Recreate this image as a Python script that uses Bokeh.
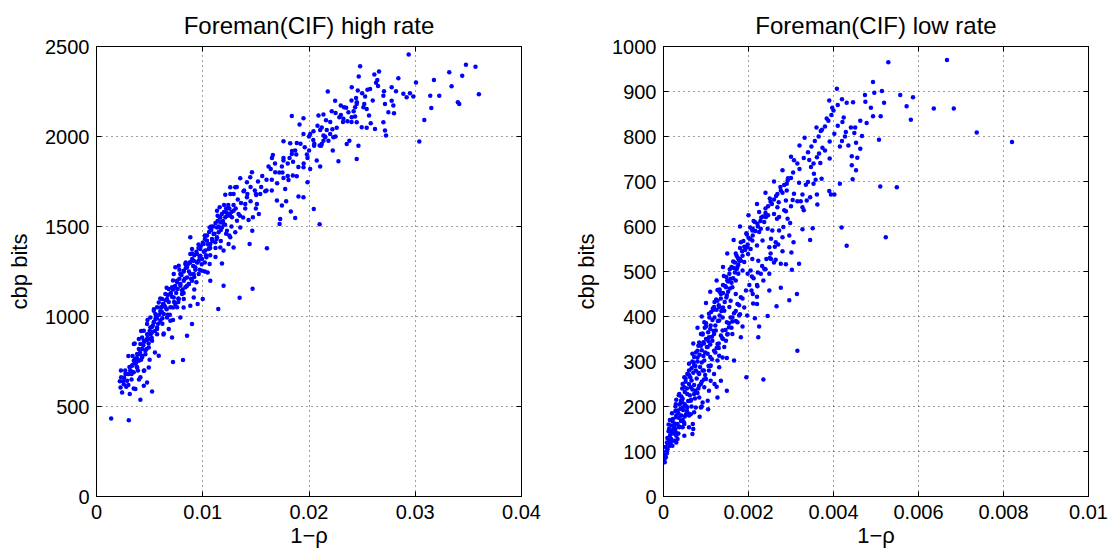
from bokeh.plotting import figure
from bokeh.layouts import row
from bokeh.models import FixedTicker, LinearAxis, CustomJSTickFormatter, Range1d
from bokeh.embed import file_html
from bokeh.resources import INLINE

# ---------------- data: Foreman(CIF) high rate ----------------
hr_x = [
    0.00138, 0.00304, 0.00413, 0.00523, 0.00720, 0.00814, 0.01146, 0.01347, 0.01469, 0.01604,
    0.01196, 0.02100, 0.02045, 0.03038, 0.03085, 0.02938, 0.03477, 0.03567, 0.03599, 0.03320,
    0.03442, 0.03342, 0.03401, 0.03414, 0.03176, 0.03141, 0.03226, 0.03151, 0.03007, 0.02888,
    0.02919, 0.02950, 0.02982, 0.02841, 0.02778, 0.02819, 0.02706, 0.02700, 0.02778, 0.02794,
    0.02715, 0.02747, 0.02800, 0.02700, 0.02715, 0.02725, 0.02621, 0.02543, 0.02496, 0.02581,
    0.02659, 0.02615, 0.02643, 0.02631, 0.02575, 0.02528, 0.02481, 0.02468, 0.02459, 0.02443,
    0.02449, 0.02402, 0.02434, 0.02512, 0.02543, 0.02565, 0.02434, 0.02449, 0.02402, 0.02362,
    0.02324, 0.02371, 0.02299, 0.02330, 0.02286, 0.02246, 0.02177, 0.02214, 0.02261, 0.02230,
    0.02199, 0.02152, 0.02136, 0.02120, 0.02183, 0.02167, 0.02105, 0.02089, 0.02136, 0.02042,
    0.02011, 0.01948, 0.01911, 0.01948, 0.01838, 0.01760, 0.01823, 0.01885, 0.01870, 0.01838,
    0.01817, 0.01760, 0.01660, 0.01651, 0.01745, 0.01682, 0.01619, 0.01760, 0.01848, 0.01885,
    0.01948, 0.01986, 0.02001, 0.02048, 0.02073, 0.02011, 0.02105, 0.02114, 0.02136, 0.02224,
    0.02277, 0.02355, 0.02380, 0.02465, 0.02449, 0.01986, 0.01948, 0.01901, 0.01785, 0.01829,
    0.01870, 0.01723, 0.01729, 0.01745, 0.01698, 0.01776, 0.01807, 0.01588, 0.01541, 0.01503,
    0.01510, 0.01528, 0.01472, 0.01431, 0.01416, 0.01400, 0.01463, 0.01447, 0.01416, 0.01384,
    0.01353, 0.01306, 0.01290, 0.01259, 0.01212, 0.01159, 0.01221, 0.01259, 0.01322, 0.01353,
    0.01306, 0.01259, 0.01228, 0.01196, 0.01165, 0.01134, 0.01102, 0.01065, 0.01040, 0.01008,
    0.00977, 0.01071, 0.01118, 0.01165, 0.01196, 0.01243, 0.01290, 0.01441, 0.01466, 0.01181,
    0.01065, 0.01046, 0.01071, 0.01034, 0.00977, 0.00946, 0.00915, 0.00883, 0.00852, 0.00821,
    0.00789, 0.00883, 0.00899, 0.00836, 0.00774, 0.00742, 0.00727, 0.00758, 0.00789, 0.00805,
    0.00836, 0.00868, 0.00899, 0.00940, 0.00962, 0.00993, 0.00711, 0.00680, 0.00648, 0.00617,
    0.00586, 0.00570, 0.00539, 0.00507, 0.00476, 0.00445, 0.00429, 0.00413, 0.00398, 0.00382,
    0.00351, 0.00335, 0.00319, 0.00304, 0.00288, 0.00257, 0.00226, 0.00232, 0.00272, 0.00241,
    0.00313, 0.00366, 0.00445, 0.00476, 0.00492, 0.00445, 0.00413, 0.00382, 0.00398, 0.00429,
    0.00460, 0.00492, 0.00523, 0.00570, 0.00586, 0.00633, 0.00680, 0.00711, 0.00695, 0.00664,
    0.00617, 0.00648, 0.00695, 0.00742, 0.00774, 0.00805, 0.00758, 0.00789, 0.00821, 0.00852,
    0.00883, 0.00899, 0.00915, 0.00952, 0.01000, 0.00351, 0.00366, 0.00398, 0.00445, 0.00476,
    0.00507, 0.00539, 0.00570, 0.00601, 0.00633, 0.00554, 0.00492, 0.00523, 0.00695, 0.00727,
    0.00764, 0.00821, 0.00852, 0.00883, 0.00915, 0.00930, 0.00962, 0.00993, 0.01024, 0.01055,
    0.01087, 0.01134, 0.01149, 0.01181, 0.01212, 0.01243, 0.01275, 0.01290, 0.01337, 0.01134,
    0.01165, 0.00883, 0.00946, 0.00664, 0.00727, 0.00608, 0.00627, 0.00554,
]
hr_y = [
    434, 424, 537, 584, 747, 758, 1041, 1104, 1154, 1379,
    1171, 1512, 1597, 1972, 2092, 2455, 2398, 2387, 2235, 2357,
    2338, 2279, 2190, 2181, 2314, 2227, 2227, 2159, 2300, 2238,
    2218, 2240, 2222, 2324, 2274, 2251, 2251, 2227, 2199, 2172,
    2181, 2135, 2129, 2079, 2033, 2005, 2042, 2048, 2051, 2074,
    2361, 2344, 2314, 2298, 2264, 2222, 2390, 2333, 2255, 2214,
    2181, 2274, 2162, 2162, 2153, 2116, 2111, 2079, 2107, 2085,
    2098, 2135, 2172, 2162, 2107, 2199, 2250, 2140, 2048, 1996,
    2014, 1996, 1977, 1959, 1977, 2036, 2036, 2116, 2122, 2029,
    2014, 2014, 2066, 2101, 2114, 1973, 1962, 1964, 1922, 1903,
    1881, 1866, 1897, 1881, 1833, 1801, 1834, 1770, 1783, 1779,
    1829, 1881, 1922, 1949, 1866, 1820, 1833, 1949, 2005, 1922,
    1862, 1959, 1977, 1949, 1875, 1746, 1662, 1666, 1640, 1584,
    1547, 1514, 1542, 1616, 1644, 1708, 1758, 1696, 1681, 1675,
    1625, 1570, 1551, 1536, 1662, 1625, 1801, 1773, 1746, 1696,
    1768, 1718, 1681, 1718, 1677, 1607, 1579, 1560, 1532, 1495,
    1468, 1440, 1477, 1514, 1523, 1495, 1458, 1495, 1421, 1403,
    1375, 1403, 1412, 1384, 1366, 1403, 1384, 1403, 1477, 1295,
    1292, 1245, 1199, 1329, 1338, 1347, 1310, 1301, 1273, 1254,
    1236, 1440, 1375, 1292, 1282, 1273, 1236, 1199, 1171, 1143,
    1162, 1180, 1199, 1190, 1236, 1254, 1162, 1153, 1125, 1097,
    1078, 1051, 1032, 995, 958, 921, 884, 847, 819, 791,
    754, 726, 699, 680, 643, 624, 606, 662, 680, 578,
    569, 597, 615, 634, 717, 699, 662, 717, 754, 773,
    810, 828, 865, 902, 782, 906, 930, 884, 977, 995,
    1023, 1051, 1051, 1069, 1097, 1125, 1051, 995, 1097, 893,
    1060, 958, 1106, 1069, 1097, 847, 763, 875, 865, 902,
    939, 967, 939, 977, 1014, 986, 875, 912, 1125, 1153,
    1153, 1199, 1217, 1236, 1236, 1273, 1310, 1319, 1366, 1375,
    1430, 1440, 1468, 1495, 1551, 1570, 1551, 1588, 1570, 1588,
    1551, 1347, 1301, 1097, 1106, 1051, 1069, 1014,
]
# denser core of the high-rate cloud
hr_x_core = [
    0.0025, 0.0028, 0.0027, 0.0031, 0.0033, 0.0035, 0.0034, 0.0037, 0.0039, 0.0041,
    0.0042, 0.0044, 0.0046, 0.0047, 0.0049, 0.0051, 0.0053, 0.0055, 0.0056, 0.0058,
    0.0060, 0.0062, 0.0064, 0.0066, 0.0068, 0.0069, 0.0071, 0.0073, 0.0075, 0.0077,
    0.0079, 0.0081, 0.0083, 0.0085, 0.0087, 0.0089, 0.0091, 0.0093, 0.0095, 0.0097,
    0.0099, 0.0101, 0.0103, 0.0105, 0.0107, 0.0109, 0.0111, 0.0113, 0.0115, 0.0117,
    0.0119, 0.0121, 0.0123, 0.0125, 0.0127, 0.0129, 0.0131, 0.0133, 0.0136, 0.0139,
    0.0142, 0.0145, 0.0149, 0.0152, 0.0156, 0.0160, 0.0164, 0.0168, 0.0172, 0.0176,
    0.0180, 0.0184, 0.0188, 0.0192, 0.0196, 0.0200, 0.0204, 0.0208, 0.0212, 0.0216,
    0.0220, 0.0225, 0.0230, 0.0235, 0.0240, 0.0245, 0.0250, 0.0255, 0.0260, 0.0265,
    0.0045, 0.0055, 0.0063, 0.0072, 0.0082, 0.0092, 0.0102, 0.0112, 0.0125, 0.0138,
    0.0150, 0.0165, 0.0180, 0.0195, 0.0210, 0.0225, 0.0240, 0.0035, 0.0040, 0.0050,
    0.0023, 0.0030, 0.0036, 0.0042, 0.0048, 0.0054, 0.0060, 0.0066, 0.0072, 0.0078,
    0.0084, 0.0090, 0.0096, 0.0102, 0.0108, 0.0114, 0.0120, 0.0126, 0.0132,
    0.0022, 0.0026, 0.0029, 0.0032, 0.0034, 0.0036, 0.0038, 0.0040, 0.0043, 0.0045,
    0.0048, 0.0050, 0.0052, 0.0054, 0.0057, 0.0059, 0.0061, 0.0063, 0.0065, 0.0067,
    0.0070, 0.0072, 0.0074, 0.0076, 0.0078, 0.0080, 0.0082, 0.0084, 0.0086, 0.0088,
    0.0090, 0.0092, 0.0094, 0.0096, 0.0098, 0.0100, 0.0102, 0.0104, 0.0106, 0.0108,
    0.0110, 0.0112, 0.0114, 0.0116, 0.0118, 0.0120, 0.0122, 0.0124,
    0.0030, 0.0033, 0.0038, 0.0043, 0.0047, 0.0052, 0.0057, 0.0062, 0.0067, 0.0072,
    0.0077, 0.0082, 0.0087, 0.0092, 0.0097, 0.0102, 0.0107, 0.0112, 0.0117, 0.0122,
    0.0127, 0.0135, 0.0140, 0.0145, 0.0150, 0.0155, 0.0160, 0.0165, 0.0170, 0.0175,
    0.0185, 0.0190, 0.0198, 0.0205, 0.0215, 0.0222, 0.0232, 0.0242, 0.0252,
]
hr_y_core = [
    640, 610, 700, 720, 650, 690, 780, 740, 700, 800,
    760, 840, 790, 870, 850, 900, 950, 920, 1000, 960,
    1030, 990, 1060, 1040, 1080, 1010, 1110, 1080, 1130, 1100,
    1180, 1150, 1210, 1170, 1250, 1210, 1280, 1260, 1300, 1330,
    1290, 1360, 1340, 1400, 1380, 1420, 1460, 1430, 1500, 1480,
    1530, 1510, 1560, 1600, 1580, 1620, 1600, 1650, 1630, 1700,
    1680, 1720, 1700, 1750, 1780, 1760, 1820, 1850, 1800, 1880,
    1850, 1920, 1900, 1960, 1940, 2000, 1980, 2060, 2050, 2090,
    2080, 2130, 2120, 2160, 2200, 2190, 2240, 2260, 2200, 2280,
    700, 800, 900, 980, 1050, 1150, 1250, 1330, 1450, 1550,
    1600, 1700, 1780, 1850, 1950, 2000, 2080, 600, 650, 760,
    700, 780, 850, 920, 980, 1040, 1100, 1160, 1200, 1260,
    1300, 1350, 1400, 1450, 1500, 1560, 1620, 1680, 1720,
    640, 660, 680, 700, 730, 760, 770, 790, 820, 860,
    880, 920, 940, 970, 990, 1010, 1050, 1070, 1090, 1120,
    1130, 1150, 1170, 1190, 1210, 1230, 1250, 1270, 1290, 1300,
    1320, 1340, 1360, 1380, 1390, 1410, 1430, 1450, 1470, 1480,
    1500, 1520, 1530, 1550, 1570, 1580, 1600, 1620,
    620, 680, 720, 780, 820, 880, 930, 960, 1010, 1050,
    1080, 1130, 1180, 1220, 1260, 1300, 1340, 1380, 1420, 1460,
    1500, 1560, 1600, 1640, 1680, 1720, 1700, 1760, 1740, 1800,
    1860, 1830, 1900, 1960, 2000, 2040, 2080, 2140, 2180,
]

# ---------------- data: Foreman(CIF) low rate ----------------
lr_x = [
    0.00529, 0.00667, 0.00820, 0.00737, 0.00683, 0.00636, 0.00587, 0.00572, 0.00582, 0.00557,
    0.00549, 0.00510, 0.00523, 0.00431, 0.00419, 0.00315, 0.00235, 0.00195, 0.00493, 0.00514,
    0.00519, 0.00511, 0.00507, 0.00493, 0.00488, 0.00496, 0.00474, 0.00475, 0.00478, 0.00463,
    0.00467, 0.00463, 0.00456, 0.00453, 0.00445, 0.00443, 0.00443, 0.00453, 0.00435, 0.00449,
    0.00451, 0.00441, 0.00427, 0.00429, 0.00420, 0.00415, 0.00431, 0.00446, 0.00424, 0.00421,
    0.00410, 0.00408, 0.00397, 0.00402, 0.00391, 0.00384, 0.00373, 0.00332, 0.00380, 0.00374,
    0.00366, 0.00391, 0.00369, 0.00361, 0.00353, 0.00343, 0.00347, 0.00307, 0.00293, 0.00319,
    0.00335, 0.00340, 0.00354, 0.00358, 0.00353, 0.00372, 0.00361, 0.00394, 0.00402, 0.00390,
    0.00415, 0.00362, 0.00345, 0.00337, 0.00327, 0.00323, 0.00315, 0.00307, 0.00290, 0.00304,
    0.00300, 0.00288, 0.00271, 0.00268, 0.00288, 0.00327, 0.00330, 0.00351, 0.00327, 0.00345,
    0.00306, 0.00301, 0.00319, 0.00302, 0.00288, 0.00276, 0.00276, 0.00296, 0.00314, 0.00266,
    0.00249, 0.00245, 0.00225, 0.00223, 0.00215, 0.00211, 0.00220, 0.00220, 0.00221, 0.00207,
    0.00208, 0.00229, 0.00237, 0.00249, 0.00253, 0.00264, 0.00249, 0.00253, 0.00264, 0.00256,
    0.00280, 0.00272, 0.00282, 0.00296, 0.00298, 0.00292, 0.00267, 0.00260, 0.00246, 0.00237,
    0.00245, 0.00225, 0.00209, 0.00221, 0.00233, 0.00220, 0.00205, 0.00199, 0.00209, 0.00223,
    0.00190, 0.00178, 0.00186, 0.00176, 0.00198, 0.00205, 0.00165, 0.00170, 0.00162, 0.00152,
    0.00182, 0.00174, 0.00170, 0.00158, 0.00149, 0.00155, 0.00143, 0.00131, 0.00127, 0.00118,
    0.00139, 0.00149, 0.00162, 0.00166, 0.00178, 0.00197, 0.00186, 0.00182, 0.00162, 0.00147,
    0.00135, 0.00123, 0.00111, 0.00097, 0.00107, 0.00094, 0.00127, 0.00139, 0.00166, 0.00149,
    0.00131, 0.00119, 0.00104, 0.00088, 0.00080, 0.00068, 0.00096, 0.00111, 0.00092, 0.00100,
    0.00111, 0.00107, 0.00127, 0.00149, 0.00135, 0.00125, 0.00104, 0.00105, 0.00085, 0.00069,
    0.00049, 0.00045, 0.00076, 0.00064, 0.00056, 0.00049, 0.00063, 0.00076, 0.00071, 0.00084,
    0.00084, 0.00072, 0.00084, 0.00092, 0.00041, 0.00033, 0.00029, 0.00025, 0.00017, 0.00013,
    0.000094, 0.000055, 0.00003, 0.00008, 0.00021, 0.00033, 0.00041, 0.00053, 0.00056, 0.00064,
    0.00045, 0.00037, 0.00049, 0.00056, 0.00064, 0.00029, 0.00017, 0.00025, 0.00037, 0.00013,
    0.00021, 0.00029, 0.00045, 0.00033, 0.00049, 0.00060, 0.00072, 0.00080, 0.00088, 0.00096,
    0.00107, 0.00119, 0.00127, 0.00135, 0.00147, 0.00158, 0.00174, 0.00182, 0.00198, 0.00209,
    0.00229, 0.00241, 0.00272, 0.00284, 0.00115, 0.00104, 0.00119, 0.00139, 0.00154, 0.00131,
    0.00158, 0.00174, 0.00127, 0.00143, 0.00151, 0.00131, 0.00119, 0.00107, 0.00096, 0.00088,
    0.00072, 0.00068,
]
lr_y = [
    965, 970, 788, 809, 862, 862, 887, 867, 837, 892,
    687, 689, 576, 557, 598, 324, 260, 265, 921, 901,
    875, 845, 793, 845, 864, 897, 892, 877, 830, 835,
    801, 773, 753, 725, 705, 736, 756, 786, 780, 808,
    820, 820, 800, 810, 790, 778, 875, 876, 842, 832,
    824, 906, 864, 806, 789, 840, 815, 797, 769, 775,
    762, 751, 741, 754, 740, 748, 732, 747, 707, 697,
    693, 699, 717, 704, 695, 706, 671, 671, 671, 679,
    695, 649, 665, 658, 671, 656, 656, 673, 680, 659,
    645, 658, 654, 643, 634, 643, 636, 596, 594, 570,
    565, 542, 517, 504, 516, 517, 464, 436, 450, 423,
    458, 401, 378, 354, 396, 429, 428, 444, 467, 458,
    489, 495, 506, 495, 528, 526, 554, 573, 565, 591,
    576, 591, 599, 580, 608, 617, 617, 628, 625, 610,
    595, 588, 591, 606, 569, 558, 550, 539, 528, 524,
    521, 524, 502, 495, 495, 502, 508, 480, 465, 478,
    443, 428, 450, 435, 447, 421, 413, 421, 459, 415,
    398, 387, 389, 407, 402, 402, 378, 354, 361, 346,
    358, 369, 380, 375, 354, 343, 339, 309, 302, 308,
    313, 324, 317, 335, 309, 317, 302, 291, 280, 261,
    257, 235, 220, 235, 257, 244, 213, 194, 177, 161,
    135, 154, 198, 213, 228, 243, 265, 280, 298, 272,
    246, 228, 220, 209, 213, 191, 176, 154, 139, 124,
    105, 87, 76, 96, 113, 128, 168, 183, 198, 183,
    198, 228, 265, 272, 243, 142, 120, 124, 154, 150,
    168, 205, 217, 161, 161, 154, 291, 324, 361, 387,
    406, 421, 435, 450, 465, 484, 510, 524, 554, 569,
    595, 621, 621, 636, 346, 332, 361, 369, 376, 391,
    398, 387, 302, 332, 361, 287, 272, 280, 243, 198,
    187, 139,
]
# denser core of the low-rate cloud
lr_x_core = [
    0.00002, 0.00004, 0.00006, 0.00005, 0.00010, 0.00009, 0.00015, 0.00012, 0.00020, 0.00018,
    0.00026, 0.00022, 0.00030, 0.00028, 0.00035, 0.00040, 0.00038, 0.00044, 0.00050, 0.00042,
    0.00050, 0.00055, 0.00060, 0.00052, 0.00066, 0.00060, 0.00070, 0.00066, 0.00075, 0.00080,
    0.00072, 0.00085, 0.00090, 0.00082, 0.00095, 0.00100, 0.00092, 0.00105, 0.00110, 0.00100,
    0.00115, 0.00120, 0.00112, 0.00125, 0.00130, 0.00120, 0.00135, 0.00140, 0.00132, 0.00145,
    0.00150, 0.00142, 0.00155, 0.00160, 0.00168, 0.00175, 0.00170, 0.00185, 0.00190, 0.00182,
    0.00200, 0.00195, 0.00210, 0.00215, 0.00230, 0.00225, 0.00240, 0.00255, 0.00250, 0.00265,
    0.00280, 0.00275, 0.00290, 0.00300, 0.00305, 0.00320, 0.00315, 0.00330, 0.00340, 0.00348,
    0.00356, 0.00365, 0.00370, 0.00380, 0.00388, 0.00395, 0.00400, 0.00410, 0.00420, 0.00390,
    0.00360, 0.00060, 0.00080, 0.00095, 0.00110, 0.00130, 0.00150, 0.00170, 0.00190, 0.00210,
    0.00235, 0.00260, 0.00280, 0.00090, 0.00120, 0.00070, 0.00030, 0.00035, 0.00045, 0.00055,
    0.00065, 0.00075, 0.00088, 0.00095, 0.00110, 0.00125, 0.00140, 0.00160, 0.00180, 0.00220,
    0.00240, 0.00270, 0.00250, 0.00015, 0.00030, 0.00045, 0.00060, 0.00070, 0.00080, 0.00090,
    0.00100, 0.00110, 0.00125, 0.00140, 0.00150, 0.00165, 0.00180, 0.00200, 0.00220, 0.00240,
    0.00260, 0.00280, 0.00300, 0.00320,
    0.00008, 0.00014, 0.00018, 0.00024, 0.00028, 0.00032, 0.00036, 0.00042, 0.00046, 0.00050,
    0.00054, 0.00058, 0.00062, 0.00068, 0.00072, 0.00078, 0.00082, 0.00086, 0.00090, 0.00094,
    0.00098, 0.00102, 0.00106, 0.00110, 0.00114, 0.00118, 0.00122, 0.00128, 0.00132, 0.00136,
    0.00140, 0.00144, 0.00148, 0.00152, 0.00156, 0.00160, 0.00164, 0.00168, 0.00172, 0.00176,
    0.00180, 0.00186, 0.00192, 0.00198, 0.00204, 0.00210, 0.00216, 0.00222, 0.00228, 0.00234,
    0.00240, 0.00246, 0.00252, 0.00260, 0.00268, 0.00276, 0.00284, 0.00292,
    0.00030, 0.00038, 0.00048, 0.00058, 0.00066, 0.00074, 0.00082, 0.00090, 0.00098, 0.00106,
    0.00114, 0.00122, 0.00130, 0.00138, 0.00146, 0.00154, 0.00162, 0.00170, 0.00178, 0.00186,
    0.00194, 0.00202, 0.00212, 0.00222, 0.00232, 0.00242, 0.00252, 0.00262,
    0.00012, 0.00020, 0.00028, 0.00036, 0.00044, 0.00052, 0.00060, 0.00068, 0.00076, 0.00084,
    0.00092, 0.00100, 0.00108, 0.00116, 0.00124, 0.00132, 0.00140, 0.00148, 0.00156, 0.00164,
    0.00172, 0.00180, 0.00188, 0.00196, 0.00204, 0.00212,
]
lr_y_core = [
    82, 92, 100, 110, 118, 130, 135, 145, 147, 158,
    162, 172, 180, 190, 185, 195, 205, 210, 205, 222,
    232, 240, 250, 255, 258, 270, 275, 285, 290, 300,
    310, 315, 325, 335, 340, 350, 362, 365, 372, 385,
    392, 398, 410, 415, 425, 432, 440, 452, 460, 468,
    480, 490, 495, 510, 520, 530, 540, 545, 555, 565,
    575, 585, 595, 610, 620, 632, 640, 650, 662, 668,
    675, 688, 695, 708, 720, 728, 740, 752, 765, 778,
    790, 800, 812, 822, 835, 848, 858, 870, 883, 880,
    820, 180, 230, 260, 290, 330, 360, 390, 420, 450,
    480, 520, 545, 200, 250, 150, 120, 140, 170, 190,
    215, 235, 250, 280, 310, 330, 350, 375, 405, 470,
    505, 560, 530, 170, 215, 250, 295, 340, 375, 400,
    430, 455, 480, 510, 540, 570, 600, 625, 650, 675,
    700, 725, 755, 780,
    120, 112, 128, 140, 150, 160, 175, 180, 192, 178,
    200, 212, 225, 238, 248, 262, 275, 288, 298, 312,
    320, 332, 345, 338, 355, 368, 380, 390, 402, 412,
    420, 432, 442, 455, 462, 475, 485, 498, 505, 515,
    528, 535, 548, 560, 572, 580, 590, 600, 612, 622,
    630, 645, 655, 660, 672, 680, 692, 702,
    135, 155, 165, 185, 200, 218, 240, 255, 270, 290,
    305, 320, 340, 352, 370, 385, 398, 412, 425, 440,
    458, 470, 485, 498, 512, 528, 540, 555,
    160, 185, 200, 225, 240, 262, 280, 300, 320, 342,
    360, 378, 398, 418, 438, 455, 470, 488, 505, 522,
    535, 552, 568, 582, 598, 612,
]

# axis ticks
hr_xticks = [0, 0.01, 0.02, 0.03, 0.04]
hr_yticks = [0, 500, 1000, 1500, 2000, 2500]
lr_xticks = [0, 0.002, 0.004, 0.006, 0.008, 0.01]
lr_yticks = [0, 100, 200, 300, 400, 500, 600, 700, 800, 900, 1000]

titles = ["Foreman(CIF) high rate", "Foreman(CIF) low rate"]
x_label = "1\u2212\u03c1"
y_label = "cbp bits"

FONT = "Liberation Sans"
fmt_code = "return String(parseFloat(tick.toFixed(6)));"
blank_code = "return '';"


def style_axis(ax, show_labels=True):
    ax.major_tick_in = 5
    ax.major_tick_out = 0
    ax.minor_tick_in = 0
    ax.minor_tick_out = 0
    ax.axis_line_color = "black"
    ax.axis_line_width = 1
    ax.major_tick_line_color = "black"
    ax.major_label_text_font = FONT
    ax.major_label_text_color = "black"
    ax.major_label_text_font_size = "20px"
    ax.axis_label_text_font = FONT
    ax.axis_label_text_font_size = "22px"
    ax.axis_label_text_font_style = "normal"
    ax.axis_label_text_color = "black"
    if not show_labels:
        ax.major_label_standoff = 0


def panel(title, xs, ys, xticks, yticks, border_left, border_right):
    p = figure(
        frame_width=425, frame_height=450,
        min_border_left=border_left, min_border_right=border_right,
        min_border_top=46, min_border_bottom=60,
        x_range=Range1d(xticks[0], xticks[-1]),
        y_range=Range1d(yticks[0], yticks[-1]),
        output_backend="svg", toolbar_location=None,
        title=title,
    )
    p.title.text_font = FONT
    p.title.text_font_size = "24px"
    p.title.text_font_style = "normal"
    p.title.align = "center"
    p.title.text_color = "black"
    p.title.standoff = 15

    p.xaxis.ticker = FixedTicker(ticks=xticks, minor_ticks=[])
    p.yaxis.ticker = FixedTicker(ticks=yticks, minor_ticks=[])
    p.xaxis.formatter = CustomJSTickFormatter(code=fmt_code)
    p.yaxis.formatter = CustomJSTickFormatter(code=fmt_code)
    p.xaxis.axis_label = x_label
    p.yaxis.axis_label = y_label
    for ax in p.xaxis + p.yaxis:
        style_axis(ax)
    p.xaxis.major_label_standoff = 8
    p.yaxis.major_label_standoff = 7
    p.xaxis.axis_label_standoff = 1
    p.yaxis.axis_label_standoff = 10

    top = LinearAxis(ticker=FixedTicker(ticks=xticks, minor_ticks=[]),
                     formatter=CustomJSTickFormatter(code=blank_code))
    right = LinearAxis(ticker=FixedTicker(ticks=yticks, minor_ticks=[]),
                       formatter=CustomJSTickFormatter(code=blank_code))
    style_axis(top, False)
    style_axis(right, False)
    p.add_layout(top, "above")
    p.add_layout(right, "right")

    p.xgrid.grid_line_color = "black"
    p.ygrid.grid_line_color = "black"
    p.xgrid.grid_line_dash = "1 4"
    p.ygrid.grid_line_dash = "1 4"
    p.xgrid.grid_line_alpha = 0.75
    p.ygrid.grid_line_alpha = 0.75

    p.outline_line_color = "black"
    p.outline_line_width = 1
    p.background_fill_color = "white"
    p.border_fill_color = "white"

    p.scatter(xs, ys, marker="circle", size=4.5, fill_color="#0000ff",
              line_color=None)
    return p


p1 = panel(titles[0], hr_x + hr_x_core, hr_y + hr_y_core,
           hr_xticks, hr_yticks, 96, 34)
p2 = panel(titles[1], lr_x + lr_x_core, lr_y + lr_y_core,
           lr_xticks, lr_yticks, 108, 22)

layout = row(p1, p2)
open("out.html", "w").write(file_html(layout, INLINE))
